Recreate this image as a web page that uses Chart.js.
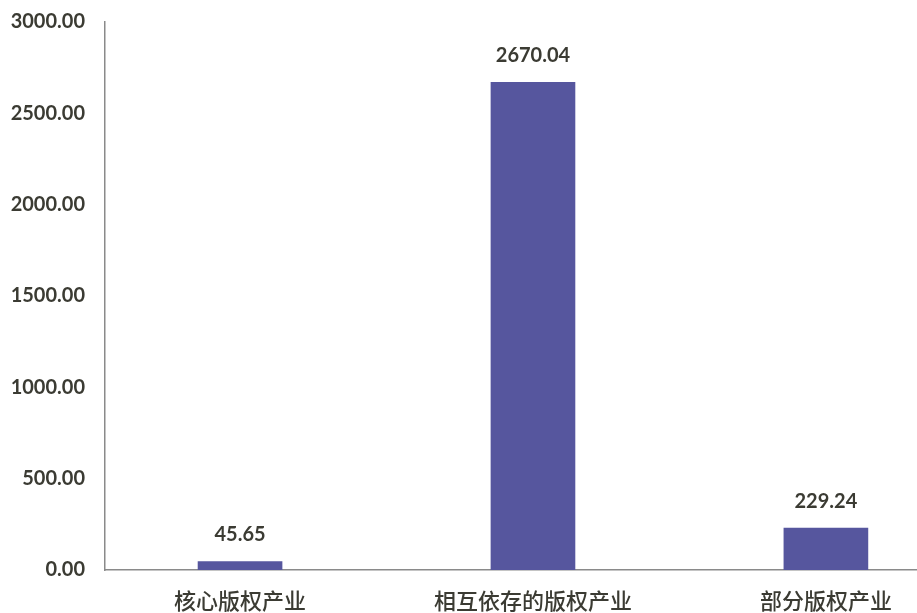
<!DOCTYPE html>
<html>
<head>
<meta charset="utf-8">
<script src="https://cdn.jsdelivr.net/npm/chart.js@4/dist/chart.umd.min.js"></script>
<style>
  html, body { margin: 0; padding: 0; background: #fff; }
  #wrap { width: 917px; height: 613px; }
</style>
</head>
<body>
<div id="wrap"><canvas id="chart"></canvas></div>
<script>
// 数据
const categories = ['核心版权产业', '相互依存的版权产业', '部分版权产业'];
const values = [45.65, 2670.04, 229.24];
const yTicks = [0, 500, 1000, 1500, 2000, 2500, 3000];

const FONT = "Lato, 'Noto Sans CJK SC', sans-serif";
const TEXT = '#3b3b33';

// 柱顶数值标签
const valueLabels = {
    id: 'valueLabels',
    afterDatasetsDraw(chart) {
        const ctx = chart.ctx;
        const meta = chart.getDatasetMeta(0);
        ctx.save();
        ctx.font = 'bold 20px ' + FONT;
        ctx.fillStyle = TEXT;
        ctx.textAlign = 'center';
        ctx.textBaseline = 'middle';
        meta.data.forEach((bar, i) => {
            ctx.fillText(values[i].toFixed(2), bar.x, bar.y - 27);
        });
        ctx.restore();
    }
};

new Chart(document.getElementById('chart'), {
    type: 'bar',
    data: {
        datasets: [{
            data: values.map((v, i) => ({ x: i, y: v })),
            backgroundColor: '#56569e',
            barThickness: 84
        }]
    },
    options: {
        responsive: true,
        maintainAspectRatio: false,
        animation: false,
        layout: { padding: { top: 22, right: 0, left: 0, bottom: 0 } },
        plugins: { legend: { display: false }, tooltip: { enabled: false } },
        scales: {
            x: {
                type: 'linear',
                offset: false,
                min: -0.461,
                max: 2.311,
                afterBuildTicks: axis => { axis.ticks = categories.map((c, i) => ({ value: i })); },
                afterFit: axis => { axis.height = 43; },
                grid: { display: false, drawTicks: false },
                border: { display: true, color: '#8a8a8a', width: 1.5 },
                ticks: {
                    autoSkip: false,
                    maxRotation: 0,
                    padding: 19,
                    color: TEXT,
                    font: { family: FONT, size: 22, weight: '500' },
                    callback: v => categories[v]
                }
            },
            y: {
                min: 0,
                max: 3000,
                afterBuildTicks: axis => { axis.ticks = yTicks.map(v => ({ value: v })); },
                afterFit: axis => { axis.width = 105; axis.paddingTop = 0; axis.paddingBottom = 0; },
                grid: { display: false, drawTicks: false },
                border: { display: true, color: '#8a8a8a', width: 1.5 },
                ticks: {
                    padding: 20,
                    color: TEXT,
                    font: { family: FONT, size: 20, weight: 'bold' },
                    callback: v => v.toFixed(2)
                }
            }
        }
    },
    plugins: [valueLabels]
});
</script>
</body>
</html>
